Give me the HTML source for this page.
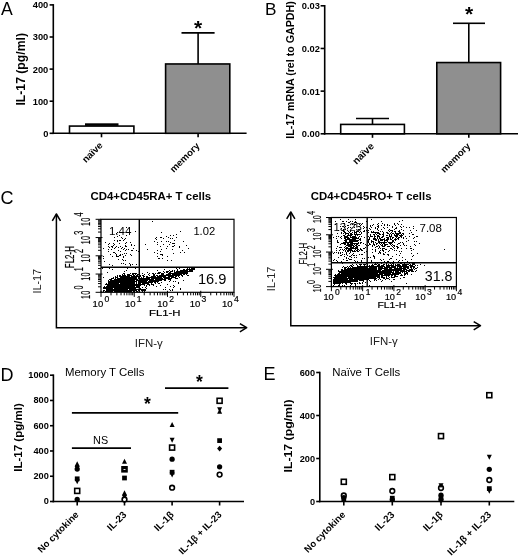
<!DOCTYPE html>
<html><head><meta charset="utf-8"><style>
html,body{margin:0;padding:0;background:#fff;width:520px;height:556px;overflow:hidden}
svg{display:block;font-family:"Liberation Sans", sans-serif;will-change:transform}
</style></head><body>
<svg width="520" height="556" viewBox="0 0 520 556">
<rect width="520" height="556" fill="#fff"/>
<text x="0.9" y="14.8" font-size="17.6" font-weight="normal" text-anchor="start" >A</text>
<line x1="53.3" y1="4.1" x2="53.3" y2="134.10000000000002" stroke="#000" stroke-width="1.6"/>
<line x1="52.5" y1="133.3" x2="246.6" y2="133.3" stroke="#000" stroke-width="1.6"/>
<line x1="49.6" y1="133.3" x2="53.3" y2="133.3" stroke="#000" stroke-width="1.6"/>
<text x="48.3" y="136.70000000000002" font-size="9.3" font-weight="bold" text-anchor="end" >0</text>
<line x1="49.6" y1="101.20000000000002" x2="53.3" y2="101.20000000000002" stroke="#000" stroke-width="1.6"/>
<text x="48.3" y="104.60000000000002" font-size="9.3" font-weight="bold" text-anchor="end" >100</text>
<line x1="49.6" y1="69.10000000000001" x2="53.3" y2="69.10000000000001" stroke="#000" stroke-width="1.6"/>
<text x="48.3" y="72.50000000000001" font-size="9.3" font-weight="bold" text-anchor="end" >200</text>
<line x1="49.6" y1="37.000000000000014" x2="53.3" y2="37.000000000000014" stroke="#000" stroke-width="1.6"/>
<text x="48.3" y="40.40000000000001" font-size="9.3" font-weight="bold" text-anchor="end" >300</text>
<line x1="49.6" y1="4.900000000000006" x2="53.3" y2="4.900000000000006" stroke="#000" stroke-width="1.6"/>
<text x="48.3" y="8.300000000000006" font-size="9.3" font-weight="bold" text-anchor="end" >400</text>
<text transform="translate(24.9,69.3) rotate(-90)" font-size="12.0" font-weight="bold" text-anchor="middle" textLength="72.5" lengthAdjust="spacingAndGlyphs">IL-17 (pg/ml)</text>
<rect x="69.5" y="126.07750000000001" width="64.4" height="7.222499999999997" fill="#fff" stroke="#000" stroke-width="1.6"/>
<rect x="85" y="123.3" width="33.5" height="2.6" fill="#000"/>
<rect x="165.6" y="63.96400000000001" width="64.2" height="69.336" fill="#8f8f8f" stroke="#000" stroke-width="1.6"/>
<line x1="198.1" y1="63.96400000000001" x2="198.1" y2="32.827" stroke="#000" stroke-width="1.6"/>
<line x1="181.5" y1="32.827" x2="214.6" y2="32.827" stroke="#000" stroke-width="1.6"/>
<text x="198.2" y="34.6" font-size="21" font-weight="bold" text-anchor="middle">*</text>
<line x1="101.5" y1="133.3" x2="101.5" y2="137.3" stroke="#000" stroke-width="1.6"/>
<line x1="198.1" y1="133.3" x2="198.1" y2="137.3" stroke="#000" stroke-width="1.6"/>
<text transform="translate(103.3,146.0) rotate(-45)" font-size="9.6" font-weight="bold" text-anchor="end">naïve</text>
<text transform="translate(200.2,146.6) rotate(-45)" font-size="9.6" font-weight="bold" text-anchor="end">memory</text>
<text x="265.1" y="14.6" font-size="17.2" font-weight="normal" text-anchor="start" >B</text>
<line x1="324.7" y1="5.0" x2="324.7" y2="134.60000000000002" stroke="#000" stroke-width="1.6"/>
<line x1="323.9" y1="133.8" x2="518" y2="133.8" stroke="#000" stroke-width="1.6"/>
<line x1="320.6" y1="133.8" x2="324.7" y2="133.8" stroke="#000" stroke-width="1.6"/>
<text x="319.9" y="137.20000000000002" font-size="9.3" font-weight="bold" text-anchor="end" >0.00</text>
<line x1="320.6" y1="91.13333333333334" x2="324.7" y2="91.13333333333334" stroke="#000" stroke-width="1.6"/>
<text x="319.9" y="94.53333333333335" font-size="9.3" font-weight="bold" text-anchor="end" >0.01</text>
<line x1="320.6" y1="48.46666666666667" x2="324.7" y2="48.46666666666667" stroke="#000" stroke-width="1.6"/>
<text x="319.9" y="51.86666666666667" font-size="9.3" font-weight="bold" text-anchor="end" >0.02</text>
<line x1="320.6" y1="5.800000000000011" x2="324.7" y2="5.800000000000011" stroke="#000" stroke-width="1.6"/>
<text x="319.9" y="9.200000000000012" font-size="9.3" font-weight="bold" text-anchor="end" >0.03</text>
<text transform="translate(293.6,70) rotate(-90)" font-size="11.0" font-weight="bold" text-anchor="middle" textLength="137.5" lengthAdjust="spacingAndGlyphs">IL-17 mRNA (rel to GAPDH)</text>
<rect x="340.7" y="124.41333333333334" width="63.7" height="9.38666666666667" fill="#fff" stroke="#000" stroke-width="1.6"/>
<line x1="372.5" y1="124.41333333333334" x2="372.5" y2="118.44000000000001" stroke="#000" stroke-width="1.6"/>
<line x1="356" y1="118.44000000000001" x2="389" y2="118.44000000000001" stroke="#000" stroke-width="1.6"/>
<rect x="436.8" y="62.54666666666668" width="63.8" height="71.25333333333333" fill="#8f8f8f" stroke="#000" stroke-width="1.6"/>
<line x1="468.8" y1="62.54666666666668" x2="468.8" y2="23.293333333333337" stroke="#000" stroke-width="1.6"/>
<line x1="453" y1="23.293333333333337" x2="485" y2="23.293333333333337" stroke="#000" stroke-width="1.6"/>
<text x="469" y="20.8" font-size="21" font-weight="bold" text-anchor="middle">*</text>
<line x1="372.5" y1="133.8" x2="372.5" y2="137.8" stroke="#000" stroke-width="1.6"/>
<line x1="468.8" y1="133.8" x2="468.8" y2="137.8" stroke="#000" stroke-width="1.6"/>
<text transform="translate(374.6,146.8) rotate(-45)" font-size="10" font-weight="bold" text-anchor="end">naïve</text>
<text transform="translate(471.0,146.8) rotate(-45)" font-size="9.6" font-weight="bold" text-anchor="end">memory</text>
<text x="0.6" y="203.8" font-size="18" font-weight="normal" text-anchor="start" >C</text>
<text x="90.5" y="200" font-size="10.1" font-weight="bold" textLength="120.7" lengthAdjust="spacingAndGlyphs">CD4+CD45RA+ T cells</text>
<polyline points="56.4,214.4 56.4,327.7 246.3,327.7" fill="none" stroke="#000" stroke-width="1.5"/>
<polyline points="52.3,220.8 56.4,214.0 60.5,220.8" fill="none" stroke="#000" stroke-width="1.5" stroke-linejoin="round"/>
<polyline points="239.9,323.59999999999997 246.70000000000002,327.7 239.9,331.8" fill="none" stroke="#000" stroke-width="1.5" stroke-linejoin="round"/>
<text x="134.8" y="347.4" font-size="10" font-weight="normal" text-anchor="start" fill="#222" textLength="28" lengthAdjust="spacingAndGlyphs">IFN-γ</text>
<text transform="translate(40.6,281.2) rotate(-90)" font-size="10" font-weight="normal" text-anchor="middle" textLength="24.5" lengthAdjust="spacingAndGlyphs" fill="#222">IL-17</text>
<path d="M152 221h1v1h-1zM126 227h1v1h-1zM135 231h1v1h-1zM180 231h1v1h-1zM117 232h1v1h-1zM161 232h1v1h-1zM116 233h1v1h-1zM176 234h1v1h-1zM119 235h1v1h-1zM126 235h1v1h-1zM170 235h1v1h-1zM173 235h1v1h-1zM117 236h1v1h-1zM166 236h1v1h-1zM114 237h1v1h-1zM121 237h1v1h-1zM156 237h1v1h-1zM160 237h2v1h-2zM168 237h1v1h-1zM176 237h1v1h-1zM122 238h1v1h-1zM125 238h1v1h-1zM155 238h1v1h-1zM163 238h1v1h-1zM170 238h1v1h-1zM172 238h1v1h-1zM124 239h1v1h-1zM156 239h1v1h-1zM114 240h1v1h-1zM117 240h1v1h-1zM119 240h2v1h-2zM123 240h1v1h-1zM174 240h1v1h-1zM117 241h1v1h-1zM154 241h1v1h-1zM161 241h1v1h-1zM166 241h1v1h-1zM168 241h1v1h-1zM183 241h1v1h-1zM105 242h1v1h-1zM126 242h1v1h-1zM130 242h1v1h-1zM157 242h1v1h-1zM170 242h1v1h-1zM109 243h1v1h-1zM113 243h1v1h-1zM119 243h1v1h-1zM125 243h1v1h-1zM172 243h3v1h-3zM108 244h1v1h-1zM114 244h1v1h-1zM131 244h1v1h-1zM145 244h1v1h-1zM157 244h1v1h-1zM163 244h1v1h-1zM169 244h1v1h-1zM113 245h1v1h-1zM125 245h1v1h-1zM131 245h1v1h-1zM134 245h1v1h-1zM174 245h1v1h-1zM186 245h1v1h-1zM108 246h1v1h-1zM111 246h2v1h-2zM116 246h1v1h-1zM120 246h1v1h-1zM125 246h2v1h-2zM160 246h1v1h-1zM167 246h1v1h-1zM172 246h2v1h-2zM179 246h1v1h-1zM109 247h1v1h-1zM112 247h1v1h-1zM115 247h1v1h-1zM118 247h1v1h-1zM122 247h1v1h-1zM179 247h1v1h-1zM103 248h1v1h-1zM114 248h1v1h-1zM121 248h1v1h-1zM124 248h1v1h-1zM133 248h1v1h-1zM166 248h1v1h-1zM188 248h1v1h-1zM108 249h1v1h-1zM111 249h1v1h-1zM123 249h1v1h-1zM126 249h1v1h-1zM128 249h1v1h-1zM147 249h1v1h-1zM161 249h1v1h-1zM172 249h1v1h-1zM118 250h1v1h-1zM125 250h1v1h-1zM131 250h2v1h-2zM136 250h1v1h-1zM157 250h1v1h-1zM182 250h1v1h-1zM108 251h1v1h-1zM120 251h1v1h-1zM138 251h1v1h-1zM160 251h1v1h-1zM113 252h2v1h-2zM154 252h1v1h-1zM180 252h1v1h-1zM184 252h1v1h-1zM115 253h1v1h-1zM124 253h1v1h-1zM126 253h1v1h-1zM157 253h1v1h-1zM173 253h1v1h-1zM110 254h1v1h-1zM116 254h1v1h-1zM120 254h1v1h-1zM122 254h1v1h-1zM130 254h1v1h-1zM160 254h3v1h-3zM116 255h1v1h-1zM119 255h2v1h-2zM125 255h1v1h-1zM131 255h1v1h-1zM162 255h1v1h-1zM103 256h1v1h-1zM112 256h1v1h-1zM116 256h3v1h-3zM123 256h1v1h-1zM157 256h1v1h-1zM167 256h1v1h-1zM123 257h1v1h-1zM103 258h1v1h-1zM158 258h2v1h-2zM162 258h1v1h-1zM118 259h1v1h-1zM122 259h1v1h-1zM123 260h1v1h-1zM125 260h1v1h-1zM167 260h1v1h-1zM171 260h1v1h-1zM104 261h1v1h-1zM121 263h1v1h-1zM123 263h1v1h-1zM129 263h1v1h-1zM109 264h1v1h-1zM125 264h1v1h-1zM130 264h1v1h-1zM132 264h1v1h-1zM136 264h1v1h-1zM112 265h1v1h-1zM130 265h1v1h-1zM109 267h1v1h-1zM185 267h1v1h-1zM187 267h1v1h-1zM190 267h3v1h-3zM194 267h1v1h-1zM102 268h1v1h-1zM109 268h1v1h-1zM127 268h1v1h-1zM135 268h1v1h-1zM176 268h1v1h-1zM179 268h1v1h-1zM187 268h1v1h-1zM189 268h1v1h-1zM191 268h4v1h-4zM112 269h1v1h-1zM164 269h1v1h-1zM177 269h1v1h-1zM183 269h2v1h-2zM186 269h9v1h-9zM126 270h1v1h-1zM157 270h1v1h-1zM169 270h1v1h-1zM172 270h1v1h-1zM174 270h1v1h-1zM177 270h1v1h-1zM180 270h8v1h-8zM189 270h4v1h-4zM124 271h1v1h-1zM163 271h1v1h-1zM166 271h3v1h-3zM170 271h3v1h-3zM174 271h1v1h-1zM176 271h17v1h-17zM107 272h1v1h-1zM147 272h1v1h-1zM158 272h3v1h-3zM164 272h1v1h-1zM166 272h2v1h-2zM169 272h2v1h-2zM174 272h14v1h-14zM123 273h2v1h-2zM130 273h1v1h-1zM132 273h5v1h-5zM142 273h1v1h-1zM149 273h1v1h-1zM152 273h2v1h-2zM155 273h1v1h-1zM157 273h3v1h-3zM161 273h3v1h-3zM168 273h20v1h-20zM122 274h1v1h-1zM124 274h1v1h-1zM127 274h3v1h-3zM132 274h2v1h-2zM135 274h1v1h-1zM137 274h3v1h-3zM144 274h1v1h-1zM148 274h1v1h-1zM153 274h2v1h-2zM161 274h3v1h-3zM166 274h5v1h-5zM172 274h10v1h-10zM183 274h2v1h-2zM186 274h1v1h-1zM117 275h1v1h-1zM119 275h2v1h-2zM122 275h4v1h-4zM127 275h5v1h-5zM133 275h2v1h-2zM136 275h2v1h-2zM140 275h1v1h-1zM142 275h2v1h-2zM149 275h1v1h-1zM153 275h2v1h-2zM156 275h2v1h-2zM159 275h21v1h-21zM181 275h2v1h-2zM187 275h2v1h-2zM115 276h1v1h-1zM117 276h1v1h-1zM119 276h11v1h-11zM131 276h8v1h-8zM140 276h1v1h-1zM143 276h2v1h-2zM146 276h2v1h-2zM151 276h5v1h-5zM157 276h9v1h-9zM168 276h6v1h-6zM175 276h2v1h-2zM178 276h1v1h-1zM182 276h1v1h-1zM103 277h1v1h-1zM113 277h1v1h-1zM115 277h3v1h-3zM120 277h17v1h-17zM138 277h1v1h-1zM141 277h1v1h-1zM143 277h1v1h-1zM146 277h16v1h-16zM163 277h7v1h-7zM171 277h5v1h-5zM179 277h1v1h-1zM111 278h3v1h-3zM115 278h1v1h-1zM117 278h20v1h-20zM138 278h12v1h-12zM151 278h12v1h-12zM164 278h8v1h-8zM175 278h3v1h-3zM109 279h3v1h-3zM114 279h24v1h-24zM139 279h15v1h-15zM155 279h11v1h-11zM168 279h3v1h-3zM108 280h1v1h-1zM110 280h25v1h-25zM136 280h12v1h-12zM149 280h13v1h-13zM164 280h2v1h-2zM170 280h1v1h-1zM183 280h1v1h-1zM108 281h29v1h-29zM138 281h9v1h-9zM148 281h11v1h-11zM169 281h1v1h-1zM173 281h1v1h-1zM175 281h1v1h-1zM108 282h27v1h-27zM136 282h1v1h-1zM138 282h15v1h-15zM154 282h2v1h-2zM157 282h1v1h-1zM161 282h1v1h-1zM178 282h1v1h-1zM106 283h1v1h-1zM108 283h11v1h-11zM120 283h15v1h-15zM136 283h1v1h-1zM138 283h3v1h-3zM142 283h7v1h-7zM151 283h1v1h-1zM155 283h1v1h-1zM158 283h2v1h-2zM178 283h1v1h-1zM105 284h40v1h-40zM147 284h3v1h-3zM151 284h3v1h-3zM167 284h1v1h-1zM107 285h34v1h-34zM144 285h1v1h-1zM146 285h1v1h-1zM149 285h1v1h-1zM153 285h1v1h-1zM160 285h1v1h-1zM173 285h1v1h-1zM104 286h1v1h-1zM106 286h29v1h-29zM136 286h3v1h-3zM146 286h1v1h-1zM156 286h1v1h-1zM170 286h1v1h-1zM174 286h1v1h-1zM103 287h36v1h-36zM142 287h1v1h-1zM145 287h1v1h-1zM165 287h1v1h-1zM173 287h1v1h-1zM103 288h10v1h-10zM114 288h22v1h-22zM140 288h1v1h-1zM146 288h1v1h-1zM180 288h1v1h-1zM106 289h22v1h-22zM129 289h10v1h-10zM140 289h6v1h-6zM163 289h1v1h-1zM165 289h1v1h-1zM169 289h1v1h-1zM172 289h1v1h-1zM180 289h1v1h-1zM103 290h2v1h-2zM106 290h31v1h-31zM138 290h1v1h-1zM141 290h5v1h-5zM170 290h1v1h-1zM172 290h1v1h-1zM103 291h1v1h-1zM105 291h8v1h-8zM114 291h18v1h-18zM133 291h2v1h-2zM136 291h2v1h-2zM139 291h1v1h-1zM142 291h1v1h-1zM144 291h1v1h-1z" fill="#000"/>
<rect x="101.0" y="219.3" width="133.0" height="73.0" fill="none" stroke="#000" stroke-width="1.2"/>
<line x1="139.3" y1="219.3" x2="139.3" y2="292.3" stroke="#000" stroke-width="1.4"/>
<line x1="101.0" y1="267.3" x2="234.0" y2="267.3" stroke="#000" stroke-width="1.4"/>
<line x1="101.0" y1="290.8" x2="101.0" y2="296.90000000000003" stroke="#000" stroke-width="1.0"/>
<line x1="95.60000000000001" y1="292.3" x2="102.5" y2="292.3" stroke="#000" stroke-width="1.0"/>
<line x1="111.00924735582737" y1="292.3" x2="111.00924735582737" y2="295.3" stroke="#000" stroke-width="1.0"/>
<line x1="98.0" y1="286.80620257913233" x2="101.0" y2="286.80620257913233" stroke="#000" stroke-width="1.0"/>
<line x1="116.86428171942877" y1="292.3" x2="116.86428171942877" y2="295.3" stroke="#000" stroke-width="1.0"/>
<line x1="98.0" y1="283.5925371013662" x2="101.0" y2="283.5925371013662" stroke="#000" stroke-width="1.0"/>
<line x1="121.01849471165475" y1="292.3" x2="121.01849471165475" y2="295.3" stroke="#000" stroke-width="1.0"/>
<line x1="98.0" y1="281.3124051582647" x2="101.0" y2="281.3124051582647" stroke="#000" stroke-width="1.0"/>
<line x1="124.24075264417263" y1="292.3" x2="124.24075264417263" y2="295.3" stroke="#000" stroke-width="1.0"/>
<line x1="98.0" y1="279.5437974208677" x2="101.0" y2="279.5437974208677" stroke="#000" stroke-width="1.0"/>
<line x1="126.87352907525616" y1="292.3" x2="126.87352907525616" y2="295.3" stroke="#000" stroke-width="1.0"/>
<line x1="98.0" y1="278.0987396804985" x2="101.0" y2="278.0987396804985" stroke="#000" stroke-width="1.0"/>
<line x1="129.09950983047403" y1="292.3" x2="129.09950983047403" y2="295.3" stroke="#000" stroke-width="1.0"/>
<line x1="98.0" y1="276.8769607697398" x2="101.0" y2="276.8769607697398" stroke="#000" stroke-width="1.0"/>
<line x1="131.0277420674821" y1="292.3" x2="131.0277420674821" y2="295.3" stroke="#000" stroke-width="1.0"/>
<line x1="98.0" y1="275.81860773739703" x2="101.0" y2="275.81860773739703" stroke="#000" stroke-width="1.0"/>
<line x1="132.72856343885755" y1="292.3" x2="132.72856343885755" y2="295.3" stroke="#000" stroke-width="1.0"/>
<line x1="98.0" y1="274.8850742027323" x2="101.0" y2="274.8850742027323" stroke="#000" stroke-width="1.0"/>
<line x1="134.25" y1="290.8" x2="134.25" y2="296.90000000000003" stroke="#000" stroke-width="1.0"/>
<line x1="95.60000000000001" y1="274.05" x2="102.5" y2="274.05" stroke="#000" stroke-width="1.0"/>
<line x1="144.25924735582737" y1="292.3" x2="144.25924735582737" y2="295.3" stroke="#000" stroke-width="1.0"/>
<line x1="98.0" y1="268.55620257913233" x2="101.0" y2="268.55620257913233" stroke="#000" stroke-width="1.0"/>
<line x1="150.1142817194288" y1="292.3" x2="150.1142817194288" y2="295.3" stroke="#000" stroke-width="1.0"/>
<line x1="98.0" y1="265.3425371013662" x2="101.0" y2="265.3425371013662" stroke="#000" stroke-width="1.0"/>
<line x1="154.26849471165474" y1="292.3" x2="154.26849471165474" y2="295.3" stroke="#000" stroke-width="1.0"/>
<line x1="98.0" y1="263.0624051582647" x2="101.0" y2="263.0624051582647" stroke="#000" stroke-width="1.0"/>
<line x1="157.49075264417263" y1="292.3" x2="157.49075264417263" y2="295.3" stroke="#000" stroke-width="1.0"/>
<line x1="98.0" y1="261.2937974208677" x2="101.0" y2="261.2937974208677" stroke="#000" stroke-width="1.0"/>
<line x1="160.12352907525616" y1="292.3" x2="160.12352907525616" y2="295.3" stroke="#000" stroke-width="1.0"/>
<line x1="98.0" y1="259.8487396804985" x2="101.0" y2="259.8487396804985" stroke="#000" stroke-width="1.0"/>
<line x1="162.34950983047403" y1="292.3" x2="162.34950983047403" y2="295.3" stroke="#000" stroke-width="1.0"/>
<line x1="98.0" y1="258.6269607697398" x2="101.0" y2="258.6269607697398" stroke="#000" stroke-width="1.0"/>
<line x1="164.2777420674821" y1="292.3" x2="164.2777420674821" y2="295.3" stroke="#000" stroke-width="1.0"/>
<line x1="98.0" y1="257.56860773739703" x2="101.0" y2="257.56860773739703" stroke="#000" stroke-width="1.0"/>
<line x1="165.97856343885755" y1="292.3" x2="165.97856343885755" y2="295.3" stroke="#000" stroke-width="1.0"/>
<line x1="98.0" y1="256.6350742027323" x2="101.0" y2="256.6350742027323" stroke="#000" stroke-width="1.0"/>
<line x1="167.5" y1="290.8" x2="167.5" y2="296.90000000000003" stroke="#000" stroke-width="1.0"/>
<line x1="95.60000000000001" y1="255.8" x2="102.5" y2="255.8" stroke="#000" stroke-width="1.0"/>
<line x1="177.50924735582737" y1="292.3" x2="177.50924735582737" y2="295.3" stroke="#000" stroke-width="1.0"/>
<line x1="98.0" y1="250.30620257913236" x2="101.0" y2="250.30620257913236" stroke="#000" stroke-width="1.0"/>
<line x1="183.3642817194288" y1="292.3" x2="183.3642817194288" y2="295.3" stroke="#000" stroke-width="1.0"/>
<line x1="98.0" y1="247.09253710136616" x2="101.0" y2="247.09253710136616" stroke="#000" stroke-width="1.0"/>
<line x1="187.51849471165474" y1="292.3" x2="187.51849471165474" y2="295.3" stroke="#000" stroke-width="1.0"/>
<line x1="98.0" y1="244.8124051582647" x2="101.0" y2="244.8124051582647" stroke="#000" stroke-width="1.0"/>
<line x1="190.74075264417263" y1="292.3" x2="190.74075264417263" y2="295.3" stroke="#000" stroke-width="1.0"/>
<line x1="98.0" y1="243.04379742086766" x2="101.0" y2="243.04379742086766" stroke="#000" stroke-width="1.0"/>
<line x1="193.37352907525616" y1="292.3" x2="193.37352907525616" y2="295.3" stroke="#000" stroke-width="1.0"/>
<line x1="98.0" y1="241.5987396804985" x2="101.0" y2="241.5987396804985" stroke="#000" stroke-width="1.0"/>
<line x1="195.59950983047406" y1="292.3" x2="195.59950983047406" y2="295.3" stroke="#000" stroke-width="1.0"/>
<line x1="98.0" y1="240.3769607697398" x2="101.0" y2="240.3769607697398" stroke="#000" stroke-width="1.0"/>
<line x1="197.52774206748214" y1="292.3" x2="197.52774206748214" y2="295.3" stroke="#000" stroke-width="1.0"/>
<line x1="98.0" y1="239.31860773739703" x2="101.0" y2="239.31860773739703" stroke="#000" stroke-width="1.0"/>
<line x1="199.22856343885755" y1="292.3" x2="199.22856343885755" y2="295.3" stroke="#000" stroke-width="1.0"/>
<line x1="98.0" y1="238.38507420273234" x2="101.0" y2="238.38507420273234" stroke="#000" stroke-width="1.0"/>
<line x1="200.75" y1="290.8" x2="200.75" y2="296.90000000000003" stroke="#000" stroke-width="1.0"/>
<line x1="95.60000000000001" y1="237.55" x2="102.5" y2="237.55" stroke="#000" stroke-width="1.0"/>
<line x1="210.75924735582737" y1="292.3" x2="210.75924735582737" y2="295.3" stroke="#000" stroke-width="1.0"/>
<line x1="98.0" y1="232.05620257913236" x2="101.0" y2="232.05620257913236" stroke="#000" stroke-width="1.0"/>
<line x1="216.6142817194288" y1="292.3" x2="216.6142817194288" y2="295.3" stroke="#000" stroke-width="1.0"/>
<line x1="98.0" y1="228.84253710136616" x2="101.0" y2="228.84253710136616" stroke="#000" stroke-width="1.0"/>
<line x1="220.76849471165474" y1="292.3" x2="220.76849471165474" y2="295.3" stroke="#000" stroke-width="1.0"/>
<line x1="98.0" y1="226.5624051582647" x2="101.0" y2="226.5624051582647" stroke="#000" stroke-width="1.0"/>
<line x1="223.99075264417263" y1="292.3" x2="223.99075264417263" y2="295.3" stroke="#000" stroke-width="1.0"/>
<line x1="98.0" y1="224.79379742086766" x2="101.0" y2="224.79379742086766" stroke="#000" stroke-width="1.0"/>
<line x1="226.62352907525616" y1="292.3" x2="226.62352907525616" y2="295.3" stroke="#000" stroke-width="1.0"/>
<line x1="98.0" y1="223.3487396804985" x2="101.0" y2="223.3487396804985" stroke="#000" stroke-width="1.0"/>
<line x1="228.84950983047406" y1="292.3" x2="228.84950983047406" y2="295.3" stroke="#000" stroke-width="1.0"/>
<line x1="98.0" y1="222.1269607697398" x2="101.0" y2="222.1269607697398" stroke="#000" stroke-width="1.0"/>
<line x1="230.77774206748214" y1="292.3" x2="230.77774206748214" y2="295.3" stroke="#000" stroke-width="1.0"/>
<line x1="98.0" y1="221.06860773739703" x2="101.0" y2="221.06860773739703" stroke="#000" stroke-width="1.0"/>
<line x1="232.47856343885755" y1="292.3" x2="232.47856343885755" y2="295.3" stroke="#000" stroke-width="1.0"/>
<line x1="98.0" y1="220.13507420273234" x2="101.0" y2="220.13507420273234" stroke="#000" stroke-width="1.0"/>
<line x1="234.0" y1="292.3" x2="234.0" y2="296.90000000000003" stroke="#000" stroke-width="1.0"/>
<line x1="95.6" y1="219.3" x2="101.0" y2="219.3" stroke="#000" stroke-width="1.0"/>
<text x="92.6" y="307.0" font-size="9.5" stroke="#000" stroke-width="0.2">10</text>
<text x="104.5" y="302.0" font-size="8.6" stroke="#000" stroke-width="0.2">0</text>
<text x="124.94999999999999" y="307.0" font-size="9.5" stroke="#000" stroke-width="0.2">10</text>
<text x="136.85" y="302.0" font-size="8.6" stroke="#000" stroke-width="0.2">1</text>
<text x="157.3" y="307.0" font-size="9.5" stroke="#000" stroke-width="0.2">10</text>
<text x="169.20000000000002" y="302.0" font-size="8.6" stroke="#000" stroke-width="0.2">2</text>
<text x="189.65" y="307.0" font-size="9.5" stroke="#000" stroke-width="0.2">10</text>
<text x="201.55" y="302.0" font-size="8.6" stroke="#000" stroke-width="0.2">3</text>
<text x="222.0" y="307.0" font-size="9.5" stroke="#000" stroke-width="0.2">10</text>
<text x="233.9" y="302.0" font-size="8.6" stroke="#000" stroke-width="0.2">4</text>
<text transform="translate(90.3,298.90000000000003) rotate(-90) scale(0.6,1)" font-size="12.2" stroke="#000" stroke-width="0.2">10</text>
<text transform="translate(83.4,289.40000000000003) rotate(-90) scale(0.6,1)" font-size="12.2" stroke="#000" stroke-width="0.2">0</text>
<text transform="translate(90.3,280.65000000000003) rotate(-90) scale(0.6,1)" font-size="12.2" stroke="#000" stroke-width="0.2">10</text>
<text transform="translate(83.4,271.15000000000003) rotate(-90) scale(0.6,1)" font-size="12.2" stroke="#000" stroke-width="0.2">1</text>
<text transform="translate(90.3,262.40000000000003) rotate(-90) scale(0.6,1)" font-size="12.2" stroke="#000" stroke-width="0.2">10</text>
<text transform="translate(83.4,252.9) rotate(-90) scale(0.6,1)" font-size="12.2" stroke="#000" stroke-width="0.2">2</text>
<text transform="translate(90.3,244.15) rotate(-90) scale(0.6,1)" font-size="12.2" stroke="#000" stroke-width="0.2">10</text>
<text transform="translate(83.4,234.65) rotate(-90) scale(0.6,1)" font-size="12.2" stroke="#000" stroke-width="0.2">3</text>
<text transform="translate(90.3,225.9) rotate(-90) scale(0.6,1)" font-size="12.2" stroke="#000" stroke-width="0.2">10</text>
<text transform="translate(83.4,216.4) rotate(-90) scale(0.6,1)" font-size="12.2" stroke="#000" stroke-width="0.2">4</text>
<text x="149.0" y="316.3" font-size="9.6" stroke="#000" stroke-width="0.2" stroke-width="0.4" textLength="31.5" lengthAdjust="spacingAndGlyphs">FL1-H</text>
<text transform="translate(73.8,268.2) rotate(-90)" font-size="12.2" stroke="#000" stroke-width="0.2" textLength="22.2" lengthAdjust="spacingAndGlyphs">FL2-H</text>
<text x="108.9" y="234.8" font-size="10.6" font-weight="normal" text-anchor="start" textLength="22.6" lengthAdjust="spacingAndGlyphs">1.44</text>
<text x="193.4" y="234.9" font-size="10.6" font-weight="normal" text-anchor="start" textLength="21.8" lengthAdjust="spacingAndGlyphs">1.02</text>
<text x="197.9" y="284.3" font-size="14.6" font-weight="normal" text-anchor="start" >16.9</text>
<text x="310.8" y="199.7" font-size="10.1" font-weight="bold" textLength="120.7" lengthAdjust="spacingAndGlyphs">CD4+CD45RO+ T cells</text>
<polyline points="290.8,212.4 290.8,325.7 480.1,325.7" fill="none" stroke="#000" stroke-width="1.5"/>
<polyline points="286.7,218.8 290.8,212.0 294.90000000000003,218.8" fill="none" stroke="#000" stroke-width="1.5" stroke-linejoin="round"/>
<polyline points="473.70000000000005,321.59999999999997 480.5,325.7 473.70000000000005,329.8" fill="none" stroke="#000" stroke-width="1.5" stroke-linejoin="round"/>
<text x="369.8" y="345.4" font-size="10" font-weight="normal" text-anchor="start" fill="#222" textLength="28" lengthAdjust="spacingAndGlyphs">IFN-γ</text>
<text transform="translate(275.0,279.0) rotate(-90)" font-size="10" font-weight="normal" text-anchor="middle" textLength="24.5" lengthAdjust="spacingAndGlyphs" fill="#222">IL-17</text>
<path d="M340 219h1v1h-1zM348 219h1v1h-1zM355 219h1v1h-1zM371 219h1v1h-1zM402 220h1v1h-1zM335 221h1v1h-1zM342 221h2v1h-2zM346 221h1v1h-1zM350 221h1v1h-1zM352 221h1v1h-1zM355 221h1v1h-1zM366 221h1v1h-1zM381 221h1v1h-1zM399 221h1v1h-1zM348 222h2v1h-2zM354 222h3v1h-3zM343 223h2v1h-2zM362 223h1v1h-1zM378 223h1v1h-1zM382 223h1v1h-1zM394 223h1v1h-1zM397 223h1v1h-1zM335 224h1v1h-1zM352 224h1v1h-1zM354 224h2v1h-2zM359 224h1v1h-1zM361 224h1v1h-1zM373 224h1v1h-1zM377 224h1v1h-1zM384 224h1v1h-1zM387 224h1v1h-1zM394 224h1v1h-1zM398 224h1v1h-1zM401 224h1v1h-1zM347 225h2v1h-2zM360 225h1v1h-1zM370 225h1v1h-1zM372 225h1v1h-1zM378 225h1v1h-1zM381 225h1v1h-1zM384 225h1v1h-1zM387 225h1v1h-1zM389 225h1v1h-1zM395 225h1v1h-1zM340 226h1v1h-1zM345 226h1v1h-1zM359 226h1v1h-1zM363 226h1v1h-1zM370 226h1v1h-1zM377 226h2v1h-2zM392 226h1v1h-1zM400 226h1v1h-1zM403 226h1v1h-1zM413 226h1v1h-1zM344 227h1v1h-1zM348 227h1v1h-1zM350 227h1v1h-1zM354 227h1v1h-1zM364 227h1v1h-1zM366 227h1v1h-1zM371 227h1v1h-1zM375 227h1v1h-1zM378 227h1v1h-1zM383 227h1v1h-1zM387 227h1v1h-1zM392 227h1v1h-1zM396 227h1v1h-1zM401 227h1v1h-1zM406 227h1v1h-1zM409 227h1v1h-1zM341 228h1v1h-1zM347 228h1v1h-1zM363 228h1v1h-1zM369 228h1v1h-1zM375 228h1v1h-1zM377 228h1v1h-1zM384 228h1v1h-1zM395 228h2v1h-2zM413 228h1v1h-1zM343 229h1v1h-1zM345 229h1v1h-1zM358 229h2v1h-2zM370 229h1v1h-1zM377 229h1v1h-1zM381 229h1v1h-1zM389 229h1v1h-1zM394 229h1v1h-1zM401 229h1v1h-1zM338 230h1v1h-1zM343 230h1v1h-1zM364 230h1v1h-1zM366 230h1v1h-1zM368 230h1v1h-1zM378 230h1v1h-1zM388 230h1v1h-1zM390 230h3v1h-3zM399 230h1v1h-1zM403 230h1v1h-1zM410 230h1v1h-1zM416 230h1v1h-1zM343 231h2v1h-2zM348 231h1v1h-1zM350 231h1v1h-1zM354 231h1v1h-1zM356 231h3v1h-3zM360 231h1v1h-1zM363 231h2v1h-2zM367 231h1v1h-1zM371 231h1v1h-1zM373 231h1v1h-1zM380 231h1v1h-1zM382 231h1v1h-1zM389 231h1v1h-1zM392 231h1v1h-1zM394 231h2v1h-2zM398 231h2v1h-2zM341 232h1v1h-1zM344 232h2v1h-2zM349 232h1v1h-1zM352 232h1v1h-1zM354 232h3v1h-3zM359 232h1v1h-1zM361 232h1v1h-1zM368 232h1v1h-1zM371 232h8v1h-8zM383 232h1v1h-1zM386 232h2v1h-2zM391 232h1v1h-1zM395 232h1v1h-1zM399 232h2v1h-2zM411 232h1v1h-1zM337 233h1v1h-1zM341 233h1v1h-1zM343 233h1v1h-1zM345 233h4v1h-4zM350 233h2v1h-2zM354 233h1v1h-1zM356 233h1v1h-1zM361 233h1v1h-1zM367 233h1v1h-1zM375 233h1v1h-1zM377 233h3v1h-3zM383 233h1v1h-1zM387 233h2v1h-2zM390 233h1v1h-1zM392 233h2v1h-2zM395 233h6v1h-6zM402 233h2v1h-2zM409 233h1v1h-1zM345 234h1v1h-1zM348 234h1v1h-1zM350 234h3v1h-3zM354 234h7v1h-7zM370 234h1v1h-1zM373 234h2v1h-2zM376 234h1v1h-1zM379 234h2v1h-2zM382 234h2v1h-2zM389 234h1v1h-1zM391 234h1v1h-1zM394 234h1v1h-1zM396 234h3v1h-3zM401 234h1v1h-1zM403 234h1v1h-1zM412 234h2v1h-2zM343 235h2v1h-2zM347 235h5v1h-5zM355 235h1v1h-1zM357 235h1v1h-1zM370 235h1v1h-1zM374 235h1v1h-1zM377 235h2v1h-2zM383 235h1v1h-1zM386 235h2v1h-2zM389 235h1v1h-1zM391 235h1v1h-1zM394 235h4v1h-4zM399 235h4v1h-4zM336 236h1v1h-1zM338 236h1v1h-1zM341 236h1v1h-1zM344 236h4v1h-4zM350 236h1v1h-1zM352 236h4v1h-4zM359 236h1v1h-1zM361 236h1v1h-1zM368 236h1v1h-1zM370 236h3v1h-3zM374 236h2v1h-2zM377 236h3v1h-3zM382 236h2v1h-2zM389 236h3v1h-3zM395 236h3v1h-3zM400 236h2v1h-2zM405 236h1v1h-1zM409 236h1v1h-1zM416 236h2v1h-2zM333 237h1v1h-1zM340 237h1v1h-1zM344 237h5v1h-5zM350 237h7v1h-7zM358 237h1v1h-1zM364 237h1v1h-1zM369 237h1v1h-1zM374 237h1v1h-1zM377 237h1v1h-1zM379 237h1v1h-1zM381 237h2v1h-2zM386 237h3v1h-3zM390 237h1v1h-1zM392 237h2v1h-2zM396 237h1v1h-1zM398 237h2v1h-2zM401 237h1v1h-1zM403 237h1v1h-1zM414 237h1v1h-1zM336 238h1v1h-1zM341 238h1v1h-1zM344 238h2v1h-2zM347 238h3v1h-3zM352 238h7v1h-7zM360 238h1v1h-1zM369 238h1v1h-1zM373 238h3v1h-3zM377 238h1v1h-1zM379 238h2v1h-2zM384 238h1v1h-1zM387 238h2v1h-2zM390 238h1v1h-1zM392 238h1v1h-1zM395 238h1v1h-1zM397 238h2v1h-2zM403 238h1v1h-1zM406 238h1v1h-1zM413 238h1v1h-1zM345 239h11v1h-11zM359 239h2v1h-2zM368 239h2v1h-2zM373 239h4v1h-4zM378 239h1v1h-1zM380 239h5v1h-5zM386 239h3v1h-3zM390 239h2v1h-2zM394 239h3v1h-3zM398 239h1v1h-1zM337 240h1v1h-1zM344 240h3v1h-3zM349 240h10v1h-10zM360 240h1v1h-1zM368 240h1v1h-1zM371 240h1v1h-1zM375 240h2v1h-2zM378 240h1v1h-1zM380 240h3v1h-3zM384 240h4v1h-4zM392 240h2v1h-2zM395 240h1v1h-1zM408 240h1v1h-1zM337 241h1v1h-1zM345 241h2v1h-2zM349 241h9v1h-9zM367 241h2v1h-2zM371 241h3v1h-3zM378 241h2v1h-2zM384 241h1v1h-1zM387 241h1v1h-1zM392 241h2v1h-2zM406 241h1v1h-1zM414 241h1v1h-1zM416 241h1v1h-1zM337 242h2v1h-2zM343 242h10v1h-10zM358 242h1v1h-1zM360 242h2v1h-2zM368 242h1v1h-1zM371 242h1v1h-1zM373 242h1v1h-1zM375 242h1v1h-1zM378 242h9v1h-9zM388 242h5v1h-5zM394 242h1v1h-1zM400 242h1v1h-1zM402 242h1v1h-1zM341 243h5v1h-5zM347 243h2v1h-2zM350 243h9v1h-9zM360 243h1v1h-1zM363 243h1v1h-1zM369 243h1v1h-1zM373 243h1v1h-1zM376 243h2v1h-2zM379 243h1v1h-1zM381 243h1v1h-1zM383 243h2v1h-2zM389 243h3v1h-3zM398 243h2v1h-2zM403 243h1v1h-1zM419 243h1v1h-1zM340 244h1v1h-1zM344 244h2v1h-2zM347 244h6v1h-6zM354 244h1v1h-1zM356 244h2v1h-2zM365 244h1v1h-1zM369 244h2v1h-2zM373 244h2v1h-2zM376 244h1v1h-1zM380 244h1v1h-1zM382 244h1v1h-1zM384 244h4v1h-4zM390 244h1v1h-1zM392 244h1v1h-1zM397 244h1v1h-1zM403 244h1v1h-1zM414 244h1v1h-1zM346 245h8v1h-8zM355 245h2v1h-2zM358 245h2v1h-2zM366 245h1v1h-1zM368 245h1v1h-1zM372 245h1v1h-1zM374 245h1v1h-1zM378 245h1v1h-1zM381 245h2v1h-2zM384 245h2v1h-2zM391 245h1v1h-1zM393 245h2v1h-2zM400 245h1v1h-1zM404 245h1v1h-1zM406 245h1v1h-1zM415 245h1v1h-1zM337 246h1v1h-1zM345 246h1v1h-1zM348 246h4v1h-4zM353 246h2v1h-2zM356 246h2v1h-2zM372 246h1v1h-1zM376 246h2v1h-2zM379 246h1v1h-1zM382 246h3v1h-3zM387 246h3v1h-3zM392 246h1v1h-1zM394 246h1v1h-1zM396 246h2v1h-2zM410 246h1v1h-1zM339 247h3v1h-3zM344 247h1v1h-1zM346 247h2v1h-2zM350 247h4v1h-4zM355 247h3v1h-3zM365 247h1v1h-1zM375 247h1v1h-1zM379 247h1v1h-1zM393 247h1v1h-1zM397 247h2v1h-2zM336 248h1v1h-1zM345 248h13v1h-13zM360 248h1v1h-1zM363 248h2v1h-2zM378 248h1v1h-1zM380 248h1v1h-1zM382 248h3v1h-3zM390 248h2v1h-2zM394 248h1v1h-1zM397 248h1v1h-1zM401 248h1v1h-1zM406 248h1v1h-1zM410 248h2v1h-2zM340 249h1v1h-1zM342 249h1v1h-1zM344 249h1v1h-1zM346 249h1v1h-1zM348 249h4v1h-4zM355 249h1v1h-1zM357 249h2v1h-2zM360 249h2v1h-2zM372 249h1v1h-1zM375 249h1v1h-1zM382 249h1v1h-1zM385 249h2v1h-2zM392 249h1v1h-1zM413 249h1v1h-1zM444 249h1v1h-1zM336 250h1v1h-1zM339 250h1v1h-1zM343 250h1v1h-1zM345 250h1v1h-1zM347 250h6v1h-6zM354 250h1v1h-1zM356 250h2v1h-2zM359 250h1v1h-1zM361 250h2v1h-2zM375 250h1v1h-1zM380 250h1v1h-1zM382 250h2v1h-2zM389 250h1v1h-1zM394 250h1v1h-1zM396 250h1v1h-1zM411 250h1v1h-1zM345 251h1v1h-1zM347 251h2v1h-2zM350 251h1v1h-1zM352 251h4v1h-4zM357 251h2v1h-2zM366 251h1v1h-1zM375 251h1v1h-1zM379 251h1v1h-1zM383 251h1v1h-1zM388 251h1v1h-1zM399 251h1v1h-1zM401 251h1v1h-1zM334 252h1v1h-1zM336 252h1v1h-1zM338 252h1v1h-1zM340 252h1v1h-1zM342 252h1v1h-1zM346 252h1v1h-1zM350 252h1v1h-1zM364 252h1v1h-1zM372 252h1v1h-1zM379 252h2v1h-2zM385 252h1v1h-1zM333 253h1v1h-1zM338 253h1v1h-1zM340 253h1v1h-1zM346 253h1v1h-1zM349 253h1v1h-1zM353 253h1v1h-1zM378 253h1v1h-1zM380 253h1v1h-1zM383 253h1v1h-1zM400 253h1v1h-1zM411 253h1v1h-1zM417 253h1v1h-1zM342 254h1v1h-1zM344 254h1v1h-1zM346 254h1v1h-1zM352 254h1v1h-1zM359 254h1v1h-1zM361 254h2v1h-2zM383 254h2v1h-2zM387 254h2v1h-2zM396 254h1v1h-1zM340 255h2v1h-2zM347 255h1v1h-1zM351 255h1v1h-1zM353 255h2v1h-2zM356 255h1v1h-1zM373 255h1v1h-1zM388 255h1v1h-1zM399 255h1v1h-1zM413 255h1v1h-1zM344 256h1v1h-1zM349 256h2v1h-2zM373 256h2v1h-2zM392 256h1v1h-1zM412 256h1v1h-1zM338 257h1v1h-1zM346 257h1v1h-1zM351 257h1v1h-1zM354 257h1v1h-1zM356 257h1v1h-1zM368 257h1v1h-1zM370 257h1v1h-1zM374 257h1v1h-1zM402 257h1v1h-1zM346 258h1v1h-1zM348 258h1v1h-1zM362 258h1v1h-1zM364 258h1v1h-1zM374 258h1v1h-1zM390 258h2v1h-2zM334 259h1v1h-1zM343 259h1v1h-1zM349 259h3v1h-3zM380 259h1v1h-1zM383 259h1v1h-1zM389 259h1v1h-1zM396 259h1v1h-1zM405 259h1v1h-1zM411 259h1v1h-1zM333 260h1v1h-1zM336 260h1v1h-1zM346 260h2v1h-2zM354 260h1v1h-1zM361 260h1v1h-1zM371 260h1v1h-1zM381 260h1v1h-1zM399 260h1v1h-1zM402 260h1v1h-1zM337 261h1v1h-1zM341 261h1v1h-1zM355 261h1v1h-1zM357 261h1v1h-1zM361 261h1v1h-1zM371 261h1v1h-1zM384 261h1v1h-1zM387 261h2v1h-2zM393 261h1v1h-1zM398 261h1v1h-1zM407 261h1v1h-1zM355 262h2v1h-2zM369 262h1v1h-1zM390 262h3v1h-3zM396 262h1v1h-1zM402 262h1v1h-1zM404 262h1v1h-1zM406 262h1v1h-1zM415 262h1v1h-1zM342 263h1v1h-1zM366 263h1v1h-1zM375 263h1v1h-1zM377 263h1v1h-1zM381 263h1v1h-1zM386 263h1v1h-1zM390 263h1v1h-1zM392 263h2v1h-2zM400 263h2v1h-2zM404 263h1v1h-1zM409 263h1v1h-1zM412 263h3v1h-3zM352 264h1v1h-1zM356 264h1v1h-1zM359 264h3v1h-3zM363 264h3v1h-3zM367 264h1v1h-1zM372 264h1v1h-1zM374 264h3v1h-3zM378 264h2v1h-2zM383 264h2v1h-2zM386 264h1v1h-1zM388 264h1v1h-1zM391 264h1v1h-1zM393 264h1v1h-1zM395 264h1v1h-1zM397 264h3v1h-3zM402 264h7v1h-7zM410 264h1v1h-1zM412 264h3v1h-3zM420 264h1v1h-1zM350 265h2v1h-2zM353 265h1v1h-1zM357 265h1v1h-1zM360 265h1v1h-1zM364 265h1v1h-1zM367 265h1v1h-1zM369 265h1v1h-1zM371 265h3v1h-3zM377 265h3v1h-3zM381 265h3v1h-3zM386 265h8v1h-8zM395 265h6v1h-6zM402 265h5v1h-5zM409 265h4v1h-4zM415 265h1v1h-1zM417 265h1v1h-1zM424 265h1v1h-1zM343 266h1v1h-1zM347 266h1v1h-1zM349 266h1v1h-1zM351 266h2v1h-2zM357 266h28v1h-28zM386 266h4v1h-4zM391 266h5v1h-5zM397 266h12v1h-12zM410 266h5v1h-5zM342 267h1v1h-1zM344 267h3v1h-3zM348 267h1v1h-1zM350 267h1v1h-1zM352 267h16v1h-16zM369 267h8v1h-8zM378 267h5v1h-5zM384 267h12v1h-12zM397 267h1v1h-1zM399 267h3v1h-3zM403 267h6v1h-6zM410 267h2v1h-2zM413 267h2v1h-2zM417 267h1v1h-1zM344 268h2v1h-2zM347 268h30v1h-30zM378 268h10v1h-10zM389 268h3v1h-3zM394 268h12v1h-12zM407 268h2v1h-2zM411 268h1v1h-1zM413 268h1v1h-1zM415 268h2v1h-2zM341 269h2v1h-2zM344 269h33v1h-33zM378 269h4v1h-4zM384 269h18v1h-18zM403 269h4v1h-4zM409 269h4v1h-4zM414 269h1v1h-1zM338 270h1v1h-1zM341 270h40v1h-40zM382 270h23v1h-23zM406 270h7v1h-7zM416 270h1v1h-1zM338 271h54v1h-54zM393 271h1v1h-1zM395 271h4v1h-4zM400 271h7v1h-7zM408 271h2v1h-2zM411 271h3v1h-3zM415 271h1v1h-1zM339 272h55v1h-55zM395 272h6v1h-6zM402 272h1v1h-1zM404 272h1v1h-1zM406 272h2v1h-2zM338 273h2v1h-2zM341 273h37v1h-37zM379 273h12v1h-12zM392 273h9v1h-9zM404 273h4v1h-4zM335 274h1v1h-1zM337 274h46v1h-46zM384 274h15v1h-15zM401 274h1v1h-1zM404 274h2v1h-2zM407 274h1v1h-1zM411 274h1v1h-1zM334 275h46v1h-46zM381 275h9v1h-9zM391 275h2v1h-2zM394 275h2v1h-2zM400 275h3v1h-3zM404 275h1v1h-1zM335 276h45v1h-45zM381 276h2v1h-2zM386 276h1v1h-1zM388 276h1v1h-1zM391 276h1v1h-1zM394 276h4v1h-4zM333 277h14v1h-14zM348 277h28v1h-28zM377 277h3v1h-3zM381 277h4v1h-4zM386 277h1v1h-1zM389 277h1v1h-1zM391 277h4v1h-4zM403 277h2v1h-2zM334 278h19v1h-19zM354 278h23v1h-23zM379 278h1v1h-1zM383 278h2v1h-2zM386 278h3v1h-3zM400 278h1v1h-1zM333 279h15v1h-15zM349 279h20v1h-20zM374 279h2v1h-2zM378 279h1v1h-1zM380 279h1v1h-1zM385 279h1v1h-1zM389 279h1v1h-1zM393 279h2v1h-2zM430 279h1v1h-1zM333 280h25v1h-25zM359 280h5v1h-5zM367 280h1v1h-1zM369 280h1v1h-1zM374 280h1v1h-1zM376 280h1v1h-1zM382 280h1v1h-1zM333 281h25v1h-25zM363 281h1v1h-1zM370 281h1v1h-1zM381 281h1v1h-1zM391 281h1v1h-1zM333 282h18v1h-18zM359 282h1v1h-1zM362 282h1v1h-1zM365 282h1v1h-1zM333 283h8v1h-8zM342 283h1v1h-1zM345 283h2v1h-2zM350 283h3v1h-3zM354 283h2v1h-2zM357 283h1v1h-1zM359 283h2v1h-2zM362 283h1v1h-1zM406 283h1v1h-1zM334 284h1v1h-1zM339 284h1v1h-1zM346 284h1v1h-1zM351 284h1v1h-1zM355 284h1v1h-1zM333 285h1v1h-1zM338 285h2v1h-2zM342 285h1v1h-1zM344 285h1v1h-1zM350 285h1v1h-1zM355 285h1v1h-1zM369 285h1v1h-1z" fill="#000"/>
<rect x="331.4" y="217.5" width="125.0" height="69.10000000000002" fill="none" stroke="#000" stroke-width="1.2"/>
<line x1="367.2" y1="217.5" x2="367.2" y2="286.6" stroke="#000" stroke-width="1.4"/>
<line x1="331.4" y1="262.7" x2="456.4" y2="262.7" stroke="#000" stroke-width="1.4"/>
<line x1="331.4" y1="285.1" x2="331.4" y2="291.20000000000005" stroke="#000" stroke-width="1.0"/>
<line x1="325.99999999999994" y1="286.6" x2="332.9" y2="286.6" stroke="#000" stroke-width="1.0"/>
<line x1="340.8071873644994" y1="286.6" x2="340.8071873644994" y2="289.6" stroke="#000" stroke-width="1.0"/>
<line x1="328.4" y1="281.39970682490474" x2="331.4" y2="281.39970682490474" stroke="#000" stroke-width="1.0"/>
<line x1="346.31003920998944" y1="286.6" x2="346.31003920998944" y2="289.6" stroke="#000" stroke-width="1.0"/>
<line x1="328.4" y1="278.35773032471786" x2="331.4" y2="278.35773032471786" stroke="#000" stroke-width="1.0"/>
<line x1="350.2143747289988" y1="286.6" x2="350.2143747289988" y2="289.6" stroke="#000" stroke-width="1.0"/>
<line x1="328.4" y1="276.19941364980946" x2="331.4" y2="276.19941364980946" stroke="#000" stroke-width="1.0"/>
<line x1="353.24281263550057" y1="286.6" x2="353.24281263550057" y2="289.6" stroke="#000" stroke-width="1.0"/>
<line x1="328.4" y1="274.52529317509527" x2="331.4" y2="274.52529317509527" stroke="#000" stroke-width="1.0"/>
<line x1="355.71722657448885" y1="286.6" x2="355.71722657448885" y2="289.6" stroke="#000" stroke-width="1.0"/>
<line x1="328.4" y1="273.1574371496226" x2="331.4" y2="273.1574371496226" stroke="#000" stroke-width="1.0"/>
<line x1="357.8093137504455" y1="286.6" x2="357.8093137504455" y2="289.6" stroke="#000" stroke-width="1.0"/>
<line x1="328.4" y1="272.00093135875375" x2="331.4" y2="272.00093135875375" stroke="#000" stroke-width="1.0"/>
<line x1="359.6215620934982" y1="286.6" x2="359.6215620934982" y2="289.6" stroke="#000" stroke-width="1.0"/>
<line x1="328.4" y1="270.9991204747142" x2="331.4" y2="270.9991204747142" stroke="#000" stroke-width="1.0"/>
<line x1="361.2200784199789" y1="286.6" x2="361.2200784199789" y2="289.6" stroke="#000" stroke-width="1.0"/>
<line x1="328.4" y1="270.1154606494357" x2="331.4" y2="270.1154606494357" stroke="#000" stroke-width="1.0"/>
<line x1="362.65" y1="285.1" x2="362.65" y2="291.20000000000005" stroke="#000" stroke-width="1.0"/>
<line x1="325.99999999999994" y1="269.32500000000005" x2="332.9" y2="269.32500000000005" stroke="#000" stroke-width="1.0"/>
<line x1="372.0571873644994" y1="286.6" x2="372.0571873644994" y2="289.6" stroke="#000" stroke-width="1.0"/>
<line x1="328.4" y1="264.12470682490476" x2="331.4" y2="264.12470682490476" stroke="#000" stroke-width="1.0"/>
<line x1="377.56003920998944" y1="286.6" x2="377.56003920998944" y2="289.6" stroke="#000" stroke-width="1.0"/>
<line x1="328.4" y1="261.08273032471783" x2="331.4" y2="261.08273032471783" stroke="#000" stroke-width="1.0"/>
<line x1="381.4643747289988" y1="286.6" x2="381.4643747289988" y2="289.6" stroke="#000" stroke-width="1.0"/>
<line x1="328.4" y1="258.9244136498095" x2="331.4" y2="258.9244136498095" stroke="#000" stroke-width="1.0"/>
<line x1="384.49281263550057" y1="286.6" x2="384.49281263550057" y2="289.6" stroke="#000" stroke-width="1.0"/>
<line x1="328.4" y1="257.2502931750953" x2="331.4" y2="257.2502931750953" stroke="#000" stroke-width="1.0"/>
<line x1="386.96722657448885" y1="286.6" x2="386.96722657448885" y2="289.6" stroke="#000" stroke-width="1.0"/>
<line x1="328.4" y1="255.88243714962258" x2="331.4" y2="255.88243714962258" stroke="#000" stroke-width="1.0"/>
<line x1="389.0593137504455" y1="286.6" x2="389.0593137504455" y2="289.6" stroke="#000" stroke-width="1.0"/>
<line x1="328.4" y1="254.7259313587537" x2="331.4" y2="254.7259313587537" stroke="#000" stroke-width="1.0"/>
<line x1="390.8715620934982" y1="286.6" x2="390.8715620934982" y2="289.6" stroke="#000" stroke-width="1.0"/>
<line x1="328.4" y1="253.7241204747142" x2="331.4" y2="253.7241204747142" stroke="#000" stroke-width="1.0"/>
<line x1="392.4700784199789" y1="286.6" x2="392.4700784199789" y2="289.6" stroke="#000" stroke-width="1.0"/>
<line x1="328.4" y1="252.84046064943567" x2="331.4" y2="252.84046064943567" stroke="#000" stroke-width="1.0"/>
<line x1="393.9" y1="285.1" x2="393.9" y2="291.20000000000005" stroke="#000" stroke-width="1.0"/>
<line x1="325.99999999999994" y1="252.05" x2="332.9" y2="252.05" stroke="#000" stroke-width="1.0"/>
<line x1="403.3071873644994" y1="286.6" x2="403.3071873644994" y2="289.6" stroke="#000" stroke-width="1.0"/>
<line x1="328.4" y1="246.84970682490473" x2="331.4" y2="246.84970682490473" stroke="#000" stroke-width="1.0"/>
<line x1="408.81003920998944" y1="286.6" x2="408.81003920998944" y2="289.6" stroke="#000" stroke-width="1.0"/>
<line x1="328.4" y1="243.80773032471785" x2="331.4" y2="243.80773032471785" stroke="#000" stroke-width="1.0"/>
<line x1="412.7143747289988" y1="286.6" x2="412.7143747289988" y2="289.6" stroke="#000" stroke-width="1.0"/>
<line x1="328.4" y1="241.64941364980945" x2="331.4" y2="241.64941364980945" stroke="#000" stroke-width="1.0"/>
<line x1="415.74281263550057" y1="286.6" x2="415.74281263550057" y2="289.6" stroke="#000" stroke-width="1.0"/>
<line x1="328.4" y1="239.9752931750953" x2="331.4" y2="239.9752931750953" stroke="#000" stroke-width="1.0"/>
<line x1="418.21722657448885" y1="286.6" x2="418.21722657448885" y2="289.6" stroke="#000" stroke-width="1.0"/>
<line x1="328.4" y1="238.60743714962257" x2="331.4" y2="238.60743714962257" stroke="#000" stroke-width="1.0"/>
<line x1="420.30931375044554" y1="286.6" x2="420.30931375044554" y2="289.6" stroke="#000" stroke-width="1.0"/>
<line x1="328.4" y1="237.45093135875373" x2="331.4" y2="237.45093135875373" stroke="#000" stroke-width="1.0"/>
<line x1="422.12156209349826" y1="286.6" x2="422.12156209349826" y2="289.6" stroke="#000" stroke-width="1.0"/>
<line x1="328.4" y1="236.44912047471416" x2="331.4" y2="236.44912047471416" stroke="#000" stroke-width="1.0"/>
<line x1="423.7200784199789" y1="286.6" x2="423.7200784199789" y2="289.6" stroke="#000" stroke-width="1.0"/>
<line x1="328.4" y1="235.56546064943566" x2="331.4" y2="235.56546064943566" stroke="#000" stroke-width="1.0"/>
<line x1="425.15" y1="285.1" x2="425.15" y2="291.20000000000005" stroke="#000" stroke-width="1.0"/>
<line x1="325.99999999999994" y1="234.775" x2="332.9" y2="234.775" stroke="#000" stroke-width="1.0"/>
<line x1="434.5571873644994" y1="286.6" x2="434.5571873644994" y2="289.6" stroke="#000" stroke-width="1.0"/>
<line x1="328.4" y1="229.57470682490472" x2="331.4" y2="229.57470682490472" stroke="#000" stroke-width="1.0"/>
<line x1="440.06003920998944" y1="286.6" x2="440.06003920998944" y2="289.6" stroke="#000" stroke-width="1.0"/>
<line x1="328.4" y1="226.53273032471782" x2="331.4" y2="226.53273032471782" stroke="#000" stroke-width="1.0"/>
<line x1="443.9643747289988" y1="286.6" x2="443.9643747289988" y2="289.6" stroke="#000" stroke-width="1.0"/>
<line x1="328.4" y1="224.37441364980944" x2="331.4" y2="224.37441364980944" stroke="#000" stroke-width="1.0"/>
<line x1="446.99281263550057" y1="286.6" x2="446.99281263550057" y2="289.6" stroke="#000" stroke-width="1.0"/>
<line x1="328.4" y1="222.70029317509528" x2="331.4" y2="222.70029317509528" stroke="#000" stroke-width="1.0"/>
<line x1="449.46722657448885" y1="286.6" x2="449.46722657448885" y2="289.6" stroke="#000" stroke-width="1.0"/>
<line x1="328.4" y1="221.33243714962254" x2="331.4" y2="221.33243714962254" stroke="#000" stroke-width="1.0"/>
<line x1="451.55931375044554" y1="286.6" x2="451.55931375044554" y2="289.6" stroke="#000" stroke-width="1.0"/>
<line x1="328.4" y1="220.1759313587537" x2="331.4" y2="220.1759313587537" stroke="#000" stroke-width="1.0"/>
<line x1="453.37156209349826" y1="286.6" x2="453.37156209349826" y2="289.6" stroke="#000" stroke-width="1.0"/>
<line x1="328.4" y1="219.1741204747142" x2="331.4" y2="219.1741204747142" stroke="#000" stroke-width="1.0"/>
<line x1="454.9700784199789" y1="286.6" x2="454.9700784199789" y2="289.6" stroke="#000" stroke-width="1.0"/>
<line x1="328.4" y1="218.29046064943566" x2="331.4" y2="218.29046064943566" stroke="#000" stroke-width="1.0"/>
<line x1="456.4" y1="286.6" x2="456.4" y2="291.20000000000005" stroke="#000" stroke-width="1.0"/>
<line x1="326.0" y1="217.5" x2="331.4" y2="217.5" stroke="#000" stroke-width="1.0"/>
<text x="323.4" y="299.6" font-size="9.2" stroke="#000" stroke-width="0.2">10</text>
<text x="335.0" y="295.4" font-size="8.5" stroke="#000" stroke-width="0.2">0</text>
<text x="354.04999999999995" y="299.6" font-size="9.2" stroke="#000" stroke-width="0.2">10</text>
<text x="365.65" y="295.4" font-size="8.5" stroke="#000" stroke-width="0.2">1</text>
<text x="384.7" y="299.6" font-size="9.2" stroke="#000" stroke-width="0.2">10</text>
<text x="396.3" y="295.4" font-size="8.5" stroke="#000" stroke-width="0.2">2</text>
<text x="415.34999999999997" y="299.6" font-size="9.2" stroke="#000" stroke-width="0.2">10</text>
<text x="426.95" y="295.4" font-size="8.5" stroke="#000" stroke-width="0.2">3</text>
<text x="446.0" y="299.6" font-size="9.2" stroke="#000" stroke-width="0.2">10</text>
<text x="457.6" y="295.4" font-size="8.5" stroke="#000" stroke-width="0.2">4</text>
<text transform="translate(321.4,292.20000000000005) rotate(-90) scale(0.6,1)" font-size="11.6" stroke="#000" stroke-width="0.2">10</text>
<text transform="translate(315.0,283.90000000000003) rotate(-90) scale(0.6,1)" font-size="11.6" stroke="#000" stroke-width="0.2">0</text>
<text transform="translate(321.4,274.92500000000007) rotate(-90) scale(0.6,1)" font-size="11.6" stroke="#000" stroke-width="0.2">10</text>
<text transform="translate(315.0,266.62500000000006) rotate(-90) scale(0.6,1)" font-size="11.6" stroke="#000" stroke-width="0.2">1</text>
<text transform="translate(321.4,257.65000000000003) rotate(-90) scale(0.6,1)" font-size="11.6" stroke="#000" stroke-width="0.2">10</text>
<text transform="translate(315.0,249.35000000000002) rotate(-90) scale(0.6,1)" font-size="11.6" stroke="#000" stroke-width="0.2">2</text>
<text transform="translate(321.4,240.375) rotate(-90) scale(0.6,1)" font-size="11.6" stroke="#000" stroke-width="0.2">10</text>
<text transform="translate(315.0,232.07500000000002) rotate(-90) scale(0.6,1)" font-size="11.6" stroke="#000" stroke-width="0.2">3</text>
<text transform="translate(321.4,223.1) rotate(-90) scale(0.6,1)" font-size="11.6" stroke="#000" stroke-width="0.2">10</text>
<text transform="translate(315.0,214.8) rotate(-90) scale(0.6,1)" font-size="11.6" stroke="#000" stroke-width="0.2">4</text>
<text x="377.5" y="308.1" font-size="8.6" stroke="#000" stroke-width="0.2" stroke-width="0.4" textLength="28.8" lengthAdjust="spacingAndGlyphs">FL1-H</text>
<text transform="translate(306.5,264.4) rotate(-90)" font-size="11.6" stroke="#000" stroke-width="0.2" textLength="21.4" lengthAdjust="spacingAndGlyphs">FL2-H</text>
<text x="333.4" y="230.6" font-size="10.6" font-weight="normal" text-anchor="start" textLength="28.4" lengthAdjust="spacingAndGlyphs">13.25</text>
<text x="419.5" y="231.6" font-size="10.6" font-weight="normal" text-anchor="start" textLength="22.4" lengthAdjust="spacingAndGlyphs">7.08</text>
<text x="424.8" y="281.3" font-size="14.2" font-weight="normal" text-anchor="start" >31.8</text>
<text x="0.5" y="380.6" font-size="18" font-weight="normal" text-anchor="start" >D</text>
<line x1="53.4" y1="374.4" x2="53.4" y2="502.3" stroke="#000" stroke-width="1.6"/>
<line x1="52.6" y1="501.5" x2="244" y2="501.5" stroke="#000" stroke-width="1.6"/>
<line x1="50.0" y1="501.5" x2="53.4" y2="501.5" stroke="#000" stroke-width="1.6"/>
<text x="48.8" y="504.4" font-size="9.2" font-weight="bold" text-anchor="end" >0</text>
<line x1="50.0" y1="476.24" x2="53.4" y2="476.24" stroke="#000" stroke-width="1.6"/>
<text x="48.8" y="479.14" font-size="9.2" font-weight="bold" text-anchor="end" >200</text>
<line x1="50.0" y1="450.98" x2="53.4" y2="450.98" stroke="#000" stroke-width="1.6"/>
<text x="48.8" y="453.88" font-size="9.2" font-weight="bold" text-anchor="end" >400</text>
<line x1="50.0" y1="425.72" x2="53.4" y2="425.72" stroke="#000" stroke-width="1.6"/>
<text x="48.8" y="428.62" font-size="9.2" font-weight="bold" text-anchor="end" >600</text>
<line x1="50.0" y1="400.46" x2="53.4" y2="400.46" stroke="#000" stroke-width="1.6"/>
<text x="48.8" y="403.35999999999996" font-size="9.2" font-weight="bold" text-anchor="end" >800</text>
<line x1="50.0" y1="375.2" x2="53.4" y2="375.2" stroke="#000" stroke-width="1.6"/>
<text x="48.8" y="378.09999999999997" font-size="9.2" font-weight="bold" text-anchor="end" >1000</text>
<text transform="translate(21.9,437.5) rotate(-90)" font-size="11.0" font-weight="bold" text-anchor="middle" textLength="68.5" lengthAdjust="spacingAndGlyphs">IL-17 (pg/ml)</text>
<text x="65.0" y="376.2" font-size="11.4" font-weight="normal" text-anchor="start" >Memory T Cells</text>
<line x1="77.2" y1="501.5" x2="77.2" y2="505.5" stroke="#000" stroke-width="1.6"/>
<line x1="124.5" y1="501.5" x2="124.5" y2="505.5" stroke="#000" stroke-width="1.6"/>
<line x1="172.1" y1="501.5" x2="172.1" y2="505.5" stroke="#000" stroke-width="1.6"/>
<line x1="219.6" y1="501.5" x2="219.6" y2="505.5" stroke="#000" stroke-width="1.6"/>
<line x1="71.9" y1="448.2" x2="131" y2="448.2" stroke="#000" stroke-width="1.7"/>
<text x="100.6" y="443.5" font-size="10.8" font-weight="normal" text-anchor="middle" >NS</text>
<line x1="71.9" y1="412.9" x2="178.2" y2="412.9" stroke="#000" stroke-width="1.7"/>
<text x="147.5" y="410.1" font-size="17.5" font-weight="bold" text-anchor="middle">*</text>
<line x1="165" y1="388.2" x2="228.4" y2="388.2" stroke="#000" stroke-width="1.7"/>
<text x="199.5" y="388.2" font-size="17.5" font-weight="bold" text-anchor="middle">*</text>
<polygon points="74.7,466.25 79.7,466.25 77.2,461.25" fill="#000"/>
<polygon points="77.2,463.625 79.7,466.5 77.2,469.375 74.7,466.5" fill="#000"/>
<circle cx="77.2" cy="469.0" r="2.625" fill="#000"/>
<rect x="74.825" y="476.425" width="4.75" height="4.75" fill="#000"/>
<polygon points="74.7,479.25 79.7,479.25 77.2,484.25" fill="#000"/>
<rect x="74.7" y="488.4" width="5" height="5" fill="#fff" stroke="#000" stroke-width="1.6"/>
<circle cx="77.2" cy="499.4" r="2.625" fill="#000"/>
<polygon points="122.0,463.75 127.0,463.75 124.5,458.75" fill="#000"/>
<rect x="122.125" y="475.625" width="4.75" height="4.75" fill="#000"/>
<rect x="122.0" y="466.8" width="5" height="5" fill="#fff" stroke="#000" stroke-width="1.6"/>
<rect x="122.125" y="466.925" width="4.75" height="4.75" fill="#000"/><rect x="123.5" y="469.0" width="2" height="0.9" fill="#fff"/>
<polygon points="122.0,495.25 127.0,495.25 124.5,490.25" fill="#000"/>
<polygon points="124.5,492.625 127.0,495.5 124.5,498.375 122.0,495.5" fill="#000"/>
<circle cx="124.5" cy="499.5" r="2.3499999999999996" fill="#fff" stroke="#000" stroke-width="1.6"/>
<polygon points="169.6,427.05 174.6,427.05 172.1,422.05" fill="#000"/>
<polygon points="169.6,437.75 174.6,437.75 172.1,442.75" fill="#000"/>
<rect x="169.6" y="445.1" width="5" height="5" fill="#fff" stroke="#000" stroke-width="1.6"/>
<circle cx="172.1" cy="459.2" r="2.625" fill="#000"/>
<rect x="169.725" y="469.825" width="4.75" height="4.75" fill="#000"/>
<polygon points="169.6,472.45 174.6,472.45 172.1,477.45" fill="#000"/>
<circle cx="172.1" cy="487.7" r="2.3499999999999996" fill="#fff" stroke="#000" stroke-width="1.6"/>
<rect x="217.1" y="398.3" width="5" height="5" fill="#fff" stroke="#000" stroke-width="1.6"/>
<polygon points="217.1,407.35 222.1,407.35 219.6,412.35" fill="#000"/>
<polygon points="217.1,413.65 222.1,413.65 219.6,408.65" fill="#000"/>
<rect x="217.225" y="438.225" width="4.75" height="4.75" fill="#000"/>
<polygon points="219.6,445.725 222.1,448.6 219.6,451.475 217.1,448.6" fill="#000"/>
<circle cx="219.6" cy="466.8" r="2.625" fill="#000"/>
<circle cx="219.6" cy="474.6" r="2.3499999999999996" fill="#fff" stroke="#000" stroke-width="1.6"/>
<text transform="translate(79.3,515.3) rotate(-45)" font-size="9.45" font-weight="bold" text-anchor="end">No cytokine</text>
<text transform="translate(127.2,515.3) rotate(-45)" font-size="9.8" font-weight="bold" text-anchor="end">IL-23</text>
<text transform="translate(174.6,515.3) rotate(-45)" font-size="9.8" font-weight="bold" text-anchor="end">IL-1β</text>
<text transform="translate(222.2,515.3) rotate(-45)" font-size="9.6" font-weight="bold" text-anchor="end">IL-1β + IL-23</text>
<text x="263.6" y="380.2" font-size="18" font-weight="normal" text-anchor="start" >E</text>
<line x1="319.8" y1="371.7" x2="319.8" y2="502.3" stroke="#000" stroke-width="1.6"/>
<line x1="319.0" y1="501.5" x2="514.3" y2="501.5" stroke="#000" stroke-width="1.6"/>
<line x1="316.2" y1="501.5" x2="319.8" y2="501.5" stroke="#000" stroke-width="1.6"/>
<text x="315.0" y="504.9" font-size="9.2" font-weight="bold" text-anchor="end" >0</text>
<line x1="316.2" y1="458.5" x2="319.8" y2="458.5" stroke="#000" stroke-width="1.6"/>
<text x="315.0" y="461.9" font-size="9.2" font-weight="bold" text-anchor="end" >200</text>
<line x1="316.2" y1="415.5" x2="319.8" y2="415.5" stroke="#000" stroke-width="1.6"/>
<text x="315.0" y="418.9" font-size="9.2" font-weight="bold" text-anchor="end" >400</text>
<line x1="316.2" y1="372.5" x2="319.8" y2="372.5" stroke="#000" stroke-width="1.6"/>
<text x="315.0" y="375.9" font-size="9.2" font-weight="bold" text-anchor="end" >600</text>
<text transform="translate(291.6,436) rotate(-90)" font-size="11.3" font-weight="bold" text-anchor="middle" textLength="73" lengthAdjust="spacingAndGlyphs">IL-17 (pg/ml)</text>
<text x="332.2" y="376.2" font-size="11.4" font-weight="normal" text-anchor="start" >Naïve T Cells</text>
<line x1="343.8" y1="501.5" x2="343.8" y2="505.5" stroke="#000" stroke-width="1.6"/>
<line x1="392.3" y1="501.5" x2="392.3" y2="505.5" stroke="#000" stroke-width="1.6"/>
<line x1="441.0" y1="501.5" x2="441.0" y2="505.5" stroke="#000" stroke-width="1.6"/>
<line x1="489.3" y1="501.5" x2="489.3" y2="505.5" stroke="#000" stroke-width="1.6"/>
<rect x="341.3" y="479.3" width="5" height="5" fill="#fff" stroke="#000" stroke-width="1.6"/>
<circle cx="343.8" cy="495.5" r="2.3499999999999996" fill="#fff" stroke="#000" stroke-width="1.6"/>
<circle cx="343.8" cy="497.5" r="2.625" fill="#000"/>
<polygon points="341.3,496.75 346.3,496.75 343.8,501.75" fill="#000"/>
<rect x="341.425" y="497.125" width="4.75" height="4.75" fill="#000"/>
<rect x="389.8" y="474.6" width="5" height="5" fill="#fff" stroke="#000" stroke-width="1.6"/>
<circle cx="392.3" cy="491.0" r="2.3499999999999996" fill="#fff" stroke="#000" stroke-width="1.6"/>
<rect x="389.925" y="495.825" width="4.75" height="4.75" fill="#000"/>
<circle cx="392.3" cy="499.5" r="2.625" fill="#000"/>
<rect x="438.5" y="433.6" width="5" height="5" fill="#fff" stroke="#000" stroke-width="1.6"/>
<circle cx="441.0" cy="488.0" r="2.3499999999999996" fill="#fff" stroke="#000" stroke-width="1.6"/>
<polygon points="438.5,483.25 443.5,483.25 441.0,488.25" fill="#000"/>
<circle cx="441.0" cy="495.0" r="2.625" fill="#000"/>
<rect x="438.625" y="495.125" width="4.75" height="4.75" fill="#000"/>
<circle cx="441.0" cy="499.8" r="2.625" fill="#000"/>
<rect x="486.8" y="392.7" width="5" height="5" fill="#fff" stroke="#000" stroke-width="1.6"/>
<polygon points="486.8,454.85 491.8,454.85 489.3,459.85" fill="#000"/>
<circle cx="489.3" cy="469.3" r="2.625" fill="#000"/>
<circle cx="489.3" cy="480.0" r="2.3499999999999996" fill="#fff" stroke="#000" stroke-width="1.6"/>
<rect x="486.925" y="486.225" width="4.75" height="4.75" fill="#000"/>
<polygon points="486.8,488.75 491.8,488.75 489.3,493.75" fill="#000"/>
<text transform="translate(345.9,515.3) rotate(-45)" font-size="9.45" font-weight="bold" text-anchor="end">No cytokine</text>
<text transform="translate(395.0,515.3) rotate(-45)" font-size="9.8" font-weight="bold" text-anchor="end">IL-23</text>
<text transform="translate(443.6,515.3) rotate(-45)" font-size="9.8" font-weight="bold" text-anchor="end">IL-1β</text>
<text transform="translate(491.9,515.3) rotate(-45)" font-size="9.8" font-weight="bold" text-anchor="end">IL-1β + IL-23</text>
</svg></body></html>
